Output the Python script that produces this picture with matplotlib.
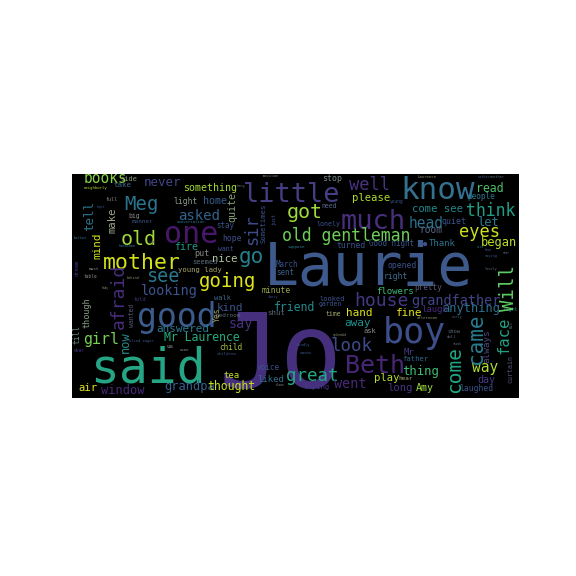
import matplotlib
matplotlib.use("Agg")
import matplotlib.pyplot as plt

# ---- data: words and their font sizes (word-cloud weights) ----
words = [
    "Jo", "Laurie", "said", "boy", "one", "good", "little", "know", "much", "mother",
    "Meg", "Beth", "old gentleman", "got", "old", "go", "going", "look", "great", "house",
    "eyes", "think", "well", "see", "girl", "asked", "books", "never", "something", "looking",
    "grandfather", "answered", "Mr Laurence", "head", "friend", "thing", "way", "went", "say", "began",
    "anything", "come see", "read", "please", "fine", "hand", "away", "window", "grandpa", "thought",
    "air", "let", "fire", "home", "nice", "kind", "flowers", "play", "long", "Amy",
    "day", "laugh", "tea", "liked", "child", "Thank", "Good night", "turned", "opened", "right",
    "March", "sent", "hope", "minute", "looked", "garden", "father", "Mr", "people", "quiet",
    "room", "trying", "voice", "laughed", "pretty", "light", "put", "seemed", "young lady", "stop",
    "need", "lonely", "want", "stay", "take", "side", "neighborly", "full", "big", "manner",
    "conversation", "kept", "better", "handsome", "top", "table", "must", "behind", "lady", "told",
    "us", "blind eager", "dear", "even", "walk", "bedroom", "children", "alone", "ask", "splendid",
    "kindly", "someone", "fancy", "shut", "time", "Laurence", "rather", "another", "young", "musician",
    "hang", "suppose", "afternoon", "curly", "show", "doll", "shook", "night", "sick", "keep",
    "saying", "lovely", "near", "hear", "\u25cf",
    "tell", "make", "mind", "afraid", "though", "till", "now", "wanted", "Yes", "dream",
    "sir", "quite", "Sometimes", "just", "come", "came", "face", "Will", "always", "curtain",
    "Bit",
]
font_sizes = [
    103, 58, 48, 35, 30, 33, 27, 31, 27, 21.5,
    19, 25, 16.5, 20, 20, 21, 19, 17.5, 17.5, 18,
    17, 16.5, 17, 18.5, 15, 14, 14.5, 12.5, 10, 13.5,
    13.5, 11, 11.5, 14.5, 11.5, 12.3, 14.5, 13.5, 13.5, 12,
    12, 10.5, 11.5, 10.5, 11, 11, 11, 12, 12, 11.5,
    10.5, 12, 10, 10, 10.5, 11, 9, 10.5, 10.5, 10,
    10, 9, 9, 9, 7.8, 9, 7.5, 8, 8, 8,
    7.5, 7.5, 8, 8, 7, 6.5, 7.2, 9, 7.7, 8.3,
    9.5, 7.2, 7.6, 8, 7.7, 8, 8.5, 7, 7.3, 8.3,
    6.5, 6.6, 6.5, 7.5, 7.4, 7, 4, 5, 6.5, 6,
    4, 3.5, 3.7, 3.5, 3.5, 4.5, 4.4, 3.5, 3, 5.2,
    6, 3.8, 4.8, 4, 7, 6, 4.3, 3, 7, 3,
    3.7, 3, 3.5, 7.4, 6.5, 4, 3.5, 3.5, 4.5, 3.2,
    3.5, 4.2, 4, 3.5, 5.5, 4, 3, 4.8, 3, 3,
    3.5, 3.5, 3, 6, 7,
    12.5, 10.5, 11, 18, 8.5, 7.9, 12, 6.5, 8, 5.5,
    17, 10, 7.2, 5, 19.5, 21, 15.5, 19, 9.2, 6.6,
    4,
]

# ---- layout (pixel positions inside the cloud image), orientation, colours ----
pos_x = [
    219, 264, 90, 383, 164, 137, 243, 400, 341, 103,
    124, 345, 282, 287, 121, 239, 199, 331, 286, 354,
    459, 466, 349, 146, 83, 178, 84, 144, 183, 141,
    411, 156, 164, 409, 274, 402, 472, 334, 229, 481,
    442, 412, 476, 352, 396, 346, 344, 101, 164, 207,
    78, 477, 174, 203, 212, 217, 376, 374, 387, 416,
    477, 421, 223, 257, 219, 429, 369, 337, 387, 384,
    276, 276, 222, 262, 319, 319, 402, 404, 467, 442,
    419, 304, 257, 459, 414, 173, 194, 192, 178, 322,
    321, 316, 218, 216, 114, 120, 84, 105, 128, 132,
    177, 97, 74, 119, 149, 84, 89, 127, 102, 134,
    166, 129, 74, 180, 214, 215, 217, 276, 364, 333,
    297, 300, 268, 267, 326, 418, 477, 490, 390, 263,
    237, 288, 417, 452, 447, 447, 453, 503, 477, 485,
    485, 485, 503, 398, 423,
    93, 116, 100.5, 124, 89, 80, 129, 134, 220, 79,
    257.5, 235, 265.5, 276, 460, 482, 509, 514, 489, 512,
    513,
]
pos_y = [
    388, 285, 382, 343, 243, 327, 202, 199, 229, 269,
    210, 373, 241, 218, 245, 263, 287, 351, 381, 306,
    237, 216, 190, 282, 344, 220, 183, 186, 191, 295,
    305, 332, 341, 228, 311, 375, 372, 388, 328, 246,
    312, 212, 192, 201, 316, 316, 326, 394, 390, 390,
    391, 226, 250, 204, 262, 311, 294, 381, 391, 391,
    383, 312, 378, 382, 350, 246, 246, 248, 268, 279,
    267, 275, 241, 293, 301, 306, 361, 355, 199, 224,
    233, 389, 370, 391, 290, 204, 256, 264, 272, 181,
    208, 226, 251, 228, 187, 181, 189, 201, 218, 223,
    223, 208, 239, 247, 243, 278, 270, 279, 289, 301,
    348, 342, 352, 351, 300, 317, 355, 386, 333, 336,
    346, 354, 298, 315, 316, 178, 178, 178, 203, 177,
    187, 248, 319, 318, 333, 338, 345, 311, 248, 251,
    257, 270, 254, 380, 246,
    231, 233, 259, 329, 328, 344, 353, 327, 322, 276,
    245, 222, 243, 225, 393, 364, 354, 311, 363, 383,
    328,
]
n_vertical = 21
vertical = [False] * (len(words) - n_vertical) + [True] * n_vertical

colors = [
    "#46307e", "#3e5a8c", "#25a584", "#3d4f8a", "#48176a", "#3c5b8d", "#443f85", "#33718e", "#472f7d", "#d4e21a",
    "#2b738e", "#482677", "#6ece58", "#9fda3a", "#a0da39", "#277f8e", "#dde318", "#3e4a89", "#22a785", "#453882",
    "#cde11d", "#1f9f88", "#46327e", "#2a788e", "#75d054", "#34628d", "#86d549", "#404688", "#a2da37", "#3b548c",
    "#414487", "#2a788e", "#25ac82", "#2c718e", "#23898e", "#3dbc74", "#addc30", "#482979", "#46337f", "#bade28",
    "#2d708e", "#238a8d", "#4ac16d", "#b2dd2d", "#e2e418", "#dde318", "#21918c", "#482979", "#355f8d", "#c8e020",
    "#e5e419", "#2a7b8e", "#1f998a", "#355e8d", "#b4c8a0", "#3b528b", "#3aba76", "#b5de2b", "#463480", "#9bd93c",
    "#453781", "#472d7b", "#c5e021", "#2f6c8e", "#a2c23a", "#2c728e", "#3a538b", "#3b528b", "#3b528b", "#3e6a8c",
    "#3b528b", "#3b5e8c", "#3e4c8a", "#9fa84c", "#3b528b", "#3b528b", "#2f6b8e", "#453781", "#2a788e", "#3b528b",
    "#5a6a8a", "#443a83", "#3b528b", "#3b528b", "#5a5a7a", "#8a9a8a", "#8a8a8a", "#5a6a7a", "#a8a870", "#7a8a8a",
    "#5a6a8a", "#3b528b", "#3b528b", "#3b528b", "#3b6a8c", "#8a9a7a", "#b5de2b", "#8a8a8a", "#8a8a8a", "#3b528b",
    "#2a788e", "#3b528b", "#2a788e", "#2a788e", "#46337f", "#8a8a8a", "#8a8a8a", "#8a8a6a", "#8a8a8a", "#46337f",
    "#8a9a9a", "#3b528b", "#46337f", "#8a8a8a", "#3b6a8c", "#5a6a7a", "#3b528b", "#8a8a8a", "#8a8a8a", "#8a9a7a",
    "#3b528b", "#3b528b", "#3b528b", "#5a6a7a", "#a8a870", "#8a8a6a", "#3b528b", "#5a6a7a", "#3b528b", "#8a8a7a",
    "#5a6a7a", "#2a788e", "#8a8a6a", "#5a6a7a", "#5a6a7a", "#5a6a7a", "#5a6a7a", "#2a788e", "#2a788e", "#3b528b",
    "#3b528b", "#5a6a7a", "#5a6a7a", "#a8a870", "#3b528b",
    "#2c738e", "#9aa88a", "#d2e21b", "#482d7b", "#8aa08a", "#6a8a7a", "#2a8a8a", "#5a5a7a", "#a0a060", "#46307e",
    "#3e4c8a", "#8aa07a", "#3b528b", "#3b528b", "#22a785", "#287c8e", "#23a083", "#5ec962", "#4a4a80", "#555577",
    "#5a6a7a",
]

# ---- figure ----
W, H = 576, 576
fig = plt.figure(figsize=(8, 8), dpi=72)
x0, x1, y0, y1 = 72, 519, 174, 398
ax = fig.add_axes([x0 / W, 1 - y1 / H, (x1 - x0) / W, (y1 - y0) / H])
ax.set_facecolor("black")
ax.set_xlim(x0, x1)
ax.set_ylim(y1, y0)
ax.set_xticks([])
ax.set_yticks([])
for sp in ax.spines.values():
    sp.set_visible(False)

for w, s, x, y, v, c in zip(words, font_sizes, pos_x, pos_y, vertical, colors):
    ax.text(x, y, w, fontsize=s, color=c, family=["DejaVu Sans Mono", "DejaVu Sans"],
            rotation=90 if v else 0, rotation_mode="anchor",
            ha="left", va="baseline", clip_on=True)

fig.savefig("out.png", dpi=72, facecolor="white")
